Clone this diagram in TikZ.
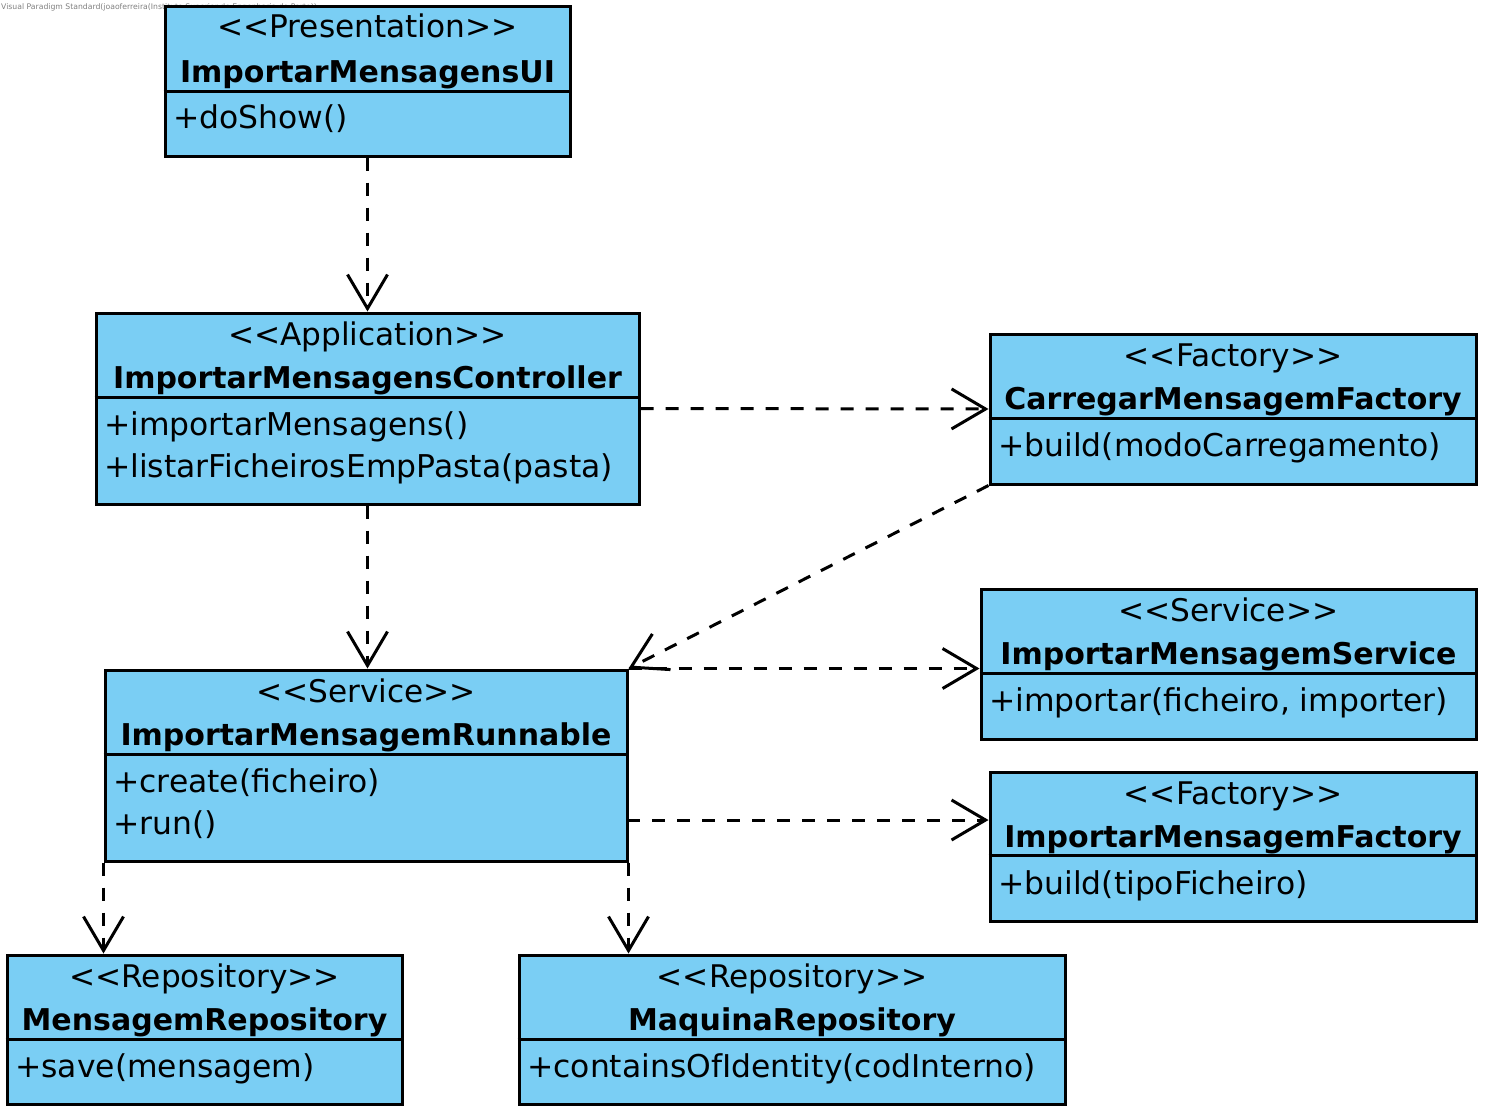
\documentclass[tikz,border=0pt]{standalone}
\usepackage{fontspec}
\setmainfont{DejaVu Sans}
\usetikzlibrary{arrows.meta,fit}
\definecolor{classblue}{RGB}{122,206,244}

\begin{document}
\begin{tikzpicture}[x=1pt,y=-1pt,
    classbox/.style={draw=black, fill=classblue, line width=3pt, inner sep=0pt},
    divline/.style={draw=black, line width=3pt},
    stereo/.style={anchor=base, inner sep=0pt, font=\fontsize{31.2}{36}\selectfont},
    cname/.style={anchor=base, inner sep=0pt, font=\fontsize{30}{36}\selectfont\bfseries},
    oper/.style={anchor=base west, inner sep=0pt, font=\fontsize{31.4}{36}\selectfont},
    dep/.style={draw=black, line width=3pt, dash pattern=on 13pt off 12pt,
        -{Straight Barb[length=34pt, width=40pt]}}]
        \useasboundingbox (0,0) rectangle (1488,1116);

        \node[anchor=base west, inner sep=0pt, text=gray, font=\fontsize{7.7}{8}\selectfont] (wm) at (1,10)
            {Visual Paradigm Standard(joaoferreira(Instituto Superior de Engenharia do Porto))};

        % presentation
        \node[classbox, fit={(165,7) (570,156)}] (ui) {};
        \draw[divline] (ui.west |- 0,91) -- (ui.east |- 0,91);
        \node[stereo] (uist) at (ui.north |- 0,38) {{<}{<}Presentation{>}{>}};
        \node[cname] (uinm) at (ui.north |- 0,82) {ImportarMensagensUI};
        \node[oper] (uiop) at (173,128) {+doShow()};

        % application
        \node[classbox, fit={(96,313) (639,504)}] (ctrl) {};
        \draw[divline] (ctrl.west |- 0,397) -- (ctrl.east |- 0,397);
        \node[stereo] (ctrlst) at (ctrl.north |- 0,345) {{<}{<}Application{>}{>}};
        \node[cname] (ctrlnm) at (ctrl.north |- 0,388) {ImportarMensagensController};
        \node[oper] (ctrlop1) at (104,435) {+importarMensagens()};
        \node[oper] (ctrlop2) at (104,477) {+listarFicheirosEmpPasta(pasta)};

        % factories
        \node[classbox, fit={(990,334) (1476,484)}] (carf) {};
        \draw[divline] (carf.west |- 0,418) -- (carf.east |- 0,418);
        \node[stereo] (carfst) at (carf.north |- 0,366) {{<}{<}Factory{>}{>}};
        \node[cname] (carfnm) at (carf.north |- 0,409) {CarregarMensagemFactory};
        \node[oper] (carfop) at (998,456) {+build(modoCarregamento)};

        \node[classbox, fit={(990,772) (1476,921)}] (impf) {};
        \draw[divline] (impf.west |- 0,855) -- (impf.east |- 0,855);
        \node[stereo] (impfst) at (impf.north |- 0,804) {{<}{<}Factory{>}{>}};
        \node[cname] (impfnm) at (impf.north |- 0,847) {ImportarMensagemFactory};
        \node[oper] (impfop) at (998,894) {+build(tipoFicheiro)};

        % services
        \node[classbox, fit={(981,589) (1476,739)}] (svc) {};
        \draw[divline] (svc.west |- 0,673) -- (svc.east |- 0,673);
        \node[stereo] (svcst) at (svc.north |- 0,621) {{<}{<}Service{>}{>}};
        \node[cname] (svcnm) at (svc.north |- 0,664) {ImportarMensagemService};
        \node[oper] (svcop) at (989,711) {+importar(ficheiro, importer)};

        \node[classbox, fit={(105,670) (627,861)}] (run) {};
        \draw[divline] (run.west |- 0,754) -- (run.east |- 0,754);
        \node[stereo] (runst) at (run.north |- 0,702) {{<}{<}Service{>}{>}};
        \node[cname] (runnm) at (run.north |- 0,745) {ImportarMensagemRunnable};
        \node[oper] (runop1) at (113,792) {+create(ficheiro)};
        \node[oper] (runop2) at (113,834) {+run()};

        % repositories
        \node[classbox, fit={(7,955) (402,1104)}] (mrep) {};
        \draw[divline] (mrep.west |- 0,1039) -- (mrep.east |- 0,1039);
        \node[stereo] (mrepst) at (mrep.north |- 0,987) {{<}{<}Repository{>}{>}};
        \node[cname] (mrepnm) at (mrep.north |- 0,1030) {MensagemRepository};
        \node[oper] (mrepop) at (15,1077) {+save(mensagem)};

        \node[classbox, fit={(519,955) (1065,1104)}] (maq) {};
        \draw[divline] (maq.west |- 0,1039) -- (maq.east |- 0,1039);
        \node[stereo] (maqst) at (maq.north |- 0,987) {{<}{<}Repository{>}{>}};
        \node[cname] (maqnm) at (maq.north |- 0,1030) {MaquinaRepository};
        \node[oper] (maqop) at (527,1077) {+containsOfIdentity(codInterno)};

        % dependencies
        \coordinate (runf) at (627,820);
        \draw[dep] (ui.south) -- (ctrl.north);
        \draw[dep] (ctrl.east) -- (carf.west);
        \draw[dep] (ctrl.south) -- (ctrl.south |- run.north);
        \draw[dep] (carf.south west) -- (run.north east);
        \draw[dep] (run.north east) -- (run.north east -| svc.west);
        \draw[dep] (runf) -- (runf -| impf.west);
        \draw[dep] (run.south west) -- (run.south west |- mrep.north);
        \draw[dep] (run.south east) -- (run.south east |- maq.north);

\end{tikzpicture}
\end{document}
